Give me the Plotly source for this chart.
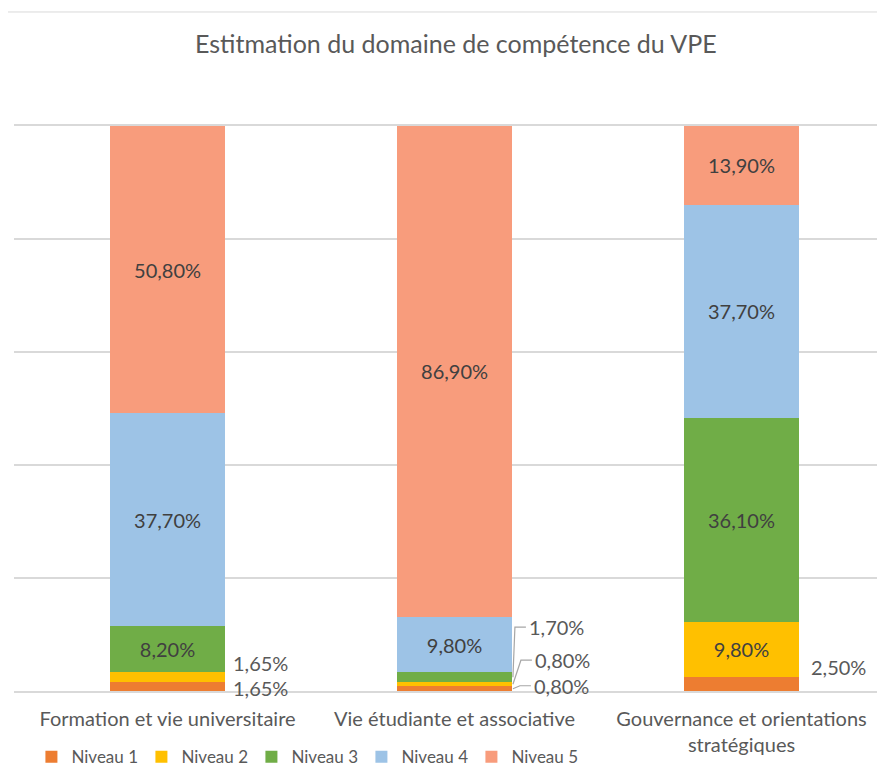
import plotly.graph_objects as go

categories = ["Formation et vie universitaire", "Vie étudiante et associative",
              "Gouvernance et orientations<br>stratégiques"]
series_names = ["Niveau 1", "Niveau 2", "Niveau 3", "Niveau 4", "Niveau 5"]
niveau_1 = [1.65, 0.80, 2.50]
niveau_2 = [1.65, 0.80, 9.80]
niveau_3 = [8.20, 1.70, 36.10]
niveau_4 = [37.70, 9.80, 37.70]
niveau_5 = [50.80, 86.90, 13.90]

colors = ["#ED7D31", "#FFC000", "#70AD47", "#9DC3E6", "#F89C7C"]
text_color = "#595959"
font_family = "Lato, 'Open Sans', sans-serif"

series = [niveau_1, niveau_2, niveau_3, niveau_4, niveau_5]
x_pos = [0, 1, 2]
bar_width = 0.4

fig = go.Figure()

for name, values, color in zip(series_names, series, colors):
    # small segments get their label outside the bar
    labels = [f"{v:.2f}".replace(".", ",") + "%" if v >= 5 else "" for v in values]
    fig.add_trace(go.Bar(
        x=x_pos, y=values, name=name,
        marker=dict(color=color, line=dict(width=0)),
        width=bar_width,
        text=labels, textposition="inside", insidetextanchor="middle",
        textangle=0, constraintext="none",
        textfont=dict(size=20, color="#404040", family=font_family),
    ))

# outside labels: (series index, category index, xshift, yshift, leader line)
outside = [
    (0, 0, 6, -2, False),
    (1, 0, 6, 14, False),
    (0, 1, 20, 3, True),
    (1, 1, 21, 24, True),
    (2, 1, 15, 50, True),
    (0, 2, 10, 17, False),
]

for s, c, dx, dy, leader in outside:
    value = series[s][c]
    base = sum(series[k][c] for k in range(s))
    mid = base + value / 2
    edge = x_pos[c] + bar_width / 2
    fig.add_annotation(
        x=edge, y=mid, xref="x", yref="y",
        text=f"{value:.2f}".replace(".", ",") + "%",
        showarrow=False, xanchor="left", yanchor="middle",
        xshift=dx, yshift=dy,
        font=dict(size=20, color=text_color, family=font_family),
    )
    if leader:
        fig.add_shape(
            type="path", xref="x", yref="y",
            xsizemode="pixel", ysizemode="pixel",
            xanchor=edge, yanchor=mid,
            path=f"M1,0 L{dx - 12},{dy} L{dx - 1},{dy}",
            line=dict(color="#A6A6A6", width=1.2),
        )

# chart frame
fig.add_shape(type="rect", xref="paper", yref="paper",
              x0=-0.0103, x1=1.1, y0=-0.3, y1=1.2018,
              line=dict(color="#D9D9D9", width=1), layer="below")

fig.update_layout(
    width=885, height=774,
    barmode="stack",
    separators=", ",
    plot_bgcolor="white", paper_bgcolor="white",
    margin=dict(l=6, r=8, t=118, b=91),
    title=dict(text="Estitmation du domaine de compétence du VPE",
               x=0.506, xanchor="center", y=0.953, yanchor="middle",
               font=dict(size=25, color=text_color, family=font_family)),
    font=dict(family=font_family, color=text_color),
    showlegend=True,
    legend=dict(orientation="h", x=0.02, xanchor="left", y=-0.117, yanchor="middle",
                font=dict(size=17, color=text_color, family=font_family),
                traceorder="normal", itemwidth=30,
                entrywidth=65, entrywidthmode="pixels"),
    xaxis=dict(range=[-0.535, 2.5], tickvals=x_pos, ticktext=categories,
               showgrid=False, zeroline=False,
               showline=True, mirror=True, linecolor="#D9D9D9", linewidth=1.5,
               ticks="", ticklabelstandoff=9,
               tickfont=dict(size=20, color=text_color, family=font_family)),
    yaxis=dict(range=[0, 100], dtick=20, showticklabels=False,
               showgrid=True, gridcolor="#D9D9D9", gridwidth=1.5,
               zeroline=False, showline=False, ticks=""),
)

fig.write_html("out.html")
